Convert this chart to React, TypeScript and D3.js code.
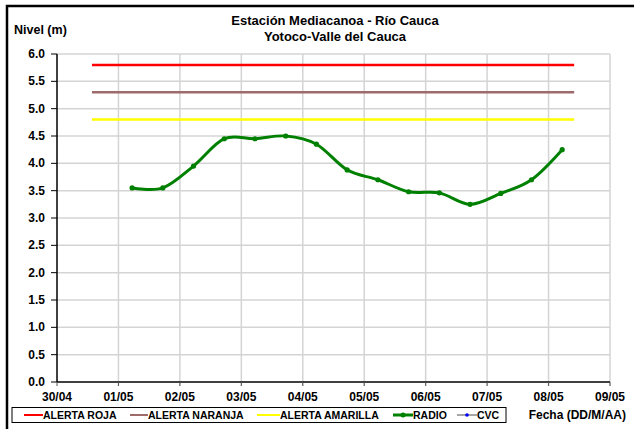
import * as d3 from 'd3'

// Serie RADIO (nivel en m), cada 12 horas
const radioFechas = [
    '2011-05-01T05:20', '2011-05-01T17:20', '2011-05-02T05:20', '2011-05-02T17:20',
    '2011-05-03T05:20', '2011-05-03T17:20', '2011-05-04T05:20', '2011-05-04T17:20',
    '2011-05-05T05:20', '2011-05-05T17:20', '2011-05-06T05:20', '2011-05-06T17:20',
    '2011-05-07T05:20', '2011-05-07T17:20', '2011-05-08T05:20',
]
const radioNiveles = [3.55, 3.55, 3.95, 4.45, 4.45, 4.5, 4.35, 3.88, 3.7, 3.48, 3.46, 3.25, 3.45, 3.7, 4.25]

// Serie CVC (sin datos en el periodo)
const cvcFechas: string[] = []
const cvcNiveles: number[] = []

// Umbrales de alerta
const alertaFechas = ['2011-04-30T13:40', '2011-05-08T10:00']
const alertaRoja = 5.8
const alertaNaranja = 5.3
const alertaAmarilla = 4.8

// Ejes
const ejeX = ['2011-04-30', '2011-05-09']
const ejeY = [0, 6]
const pasoY = 0.5

const parse = (s: string) => d3.utcParse('%Y-%m-%dT%H:%M')(s.length === 10 ? s + 'T00:00' : s) as Date

const font = '"Liberation Sans", Arial, sans-serif'

const App = () => {
    const margin = { left: 57, right: 634 - 610, top: 54, bottom: 429 - 382 }
    const width = 634
    const height = 429

    const x = d3.scaleUtc()
        .domain(ejeX.map(parse))
        .range([margin.left, width - margin.right])

    const y = d3.scaleLinear()
        .domain(ejeY)
        .range([height - margin.bottom, margin.top])

    const xTicks = x.ticks(d3.utcDay.every(1)!)
    const yTicks = d3.range(ejeY[0], ejeY[1] + pasoY / 2, pasoY)
    const fmt = d3.utcFormat('%d/%m')

    const radio = radioFechas.map((f, i) => ({ date: parse(f), value: radioNiveles[i] }))
    const cvc = cvcFechas.map((f, i) => ({ date: parse(f), value: cvcNiveles[i] }))

    const line = d3.line<{ date: Date, value: number }>()
        .x(d => x(d.date))
        .y(d => y(d.value))
        .curve(d3.curveCardinal.tension(0))

    const alertas = [
        { value: alertaRoja, color: '#FF0000' },
        { value: alertaNaranja, color: '#9E6B6B' },
        { value: alertaAmarilla, color: '#FFFF00' },
    ]

    const x0 = x.range()[0]
    const y0 = y.range()[0]

    // leyenda
    const legend = [
        { label: 'ALERTA ROJA', color: '#FF0000', x1: 24, x2: 43 },
        { label: 'ALERTA NARANJA', color: '#9E6B6B', x1: 130, x2: 148 },
        { label: 'ALERTA AMARILLA', color: '#FFFF00', x1: 257, x2: 280 },
        { label: 'RADIO', color: '#008000', x1: 393, x2: 413, marker: '#008000' },
        { label: 'CVC', color: '#A6A6A6', x1: 457, x2: 477, marker: '#0000FF' },
    ]

    return (
        <svg width={width} height={height} style={{ position: 'absolute', left: 0, top: 0, background: '#fff' }}
            fontFamily={font} fontWeight='bold'>
            <rect x={7} y={6} width={660} height={460} fill='#fff' stroke='#000' strokeWidth={2.5} />

            <text x={335} y={25} textAnchor='middle' fontSize={13}>Estación Mediacanoa - Río  Cauca</text>
            <text x={335} y={40.5} textAnchor='middle' fontSize={13}>Yotoco-Valle del Cauca</text>
            <text x={14} y={34} fontSize={12.5}>Nivel (m)</text>

            {/* grilla */}
            {yTicks.filter(t => t > 0).map(t => (
                <line key={'gy' + t} x1={x0} x2={x.range()[1]} y1={y(t)} y2={y(t)} stroke='#D4D4D4' strokeWidth={1.5} />
            ))}
            {xTicks.filter((t, i) => i > 0).map(t => (
                <line key={'gx' + t.getTime()} x1={x(t)} x2={x(t)} y1={y.range()[1]} y2={y0 + 4} stroke='#D4D4D4' strokeWidth={1.5} />
            ))}

            {/* ejes */}
            <line x1={x0} x2={x.range()[1]} y1={y0} y2={y0} stroke='#000' strokeWidth={1.5} />
            <line x1={x0} x2={x0} y1={y.range()[1]} y2={y0} stroke='#000' strokeWidth={1.5} />
            {yTicks.map(t => (
                <g key={'ty' + t}>
                    <line x1={x0 - 6} x2={x0} y1={y(t)} y2={y(t)} stroke='#000' strokeWidth={1} />
                    <text x={45} y={y(t) + 4} textAnchor='end' fontSize={12}>{t.toFixed(1)}</text>
                </g>
            ))}
            {xTicks.map(t => (
                <g key={'tx' + t.getTime()}>
                    <line x1={x(t)} x2={x(t)} y1={y0} y2={y0 + 4} stroke='#555' strokeWidth={1} />
                    <text x={x(t)} y={401} textAnchor='middle' fontSize={12}>{fmt(t)}</text>
                </g>
            ))}

            {/* alertas */}
            {alertas.map(a => (
                <line key={a.color} x1={x(parse(alertaFechas[0]))} x2={x(parse(alertaFechas[1]))}
                    y1={y(a.value)} y2={y(a.value)} stroke={a.color} strokeWidth={2.5} />
            ))}

            {/* series */}
            <path d={line(radio) ?? ''} fill='none' stroke='#008000' strokeWidth={3} />
            {radio.map((d, i) => (
                <circle key={'r' + i} cx={x(d.date)} cy={y(d.value)} r={2.6} fill='#008000' />
            ))}
            <path d={line(cvc) ?? ''} fill='none' stroke='#A6A6A6' strokeWidth={1.5} />
            {cvc.map((d, i) => (
                <circle key={'c' + i} cx={x(d.date)} cy={y(d.value)} r={2} fill='#0000FF' />
            ))}

            {/* leyenda */}
            <rect x={12} y={407.5} width={494} height={15} fill='#fff' stroke='#000' strokeWidth={1} />
            {legend.map(l => (
                <g key={l.label}>
                    <line x1={l.x1} x2={l.x2} y1={415} y2={415} stroke={l.color} strokeWidth={l.label === 'RADIO' ? 3 : 2} />
                    {l.marker && <circle cx={(l.x1 + l.x2) / 2} cy={415} r={l.label === 'RADIO' ? 2.5 : 1.8} fill={l.marker} />}
                    <text x={l.x2} y={419} fontSize={10.5}>{l.label}</text>
                </g>
            ))}
            <text x={626} y={419} textAnchor='end' fontSize={12}>Fecha (DD/M/AA)</text>
        </svg>
    )
}

export default App
